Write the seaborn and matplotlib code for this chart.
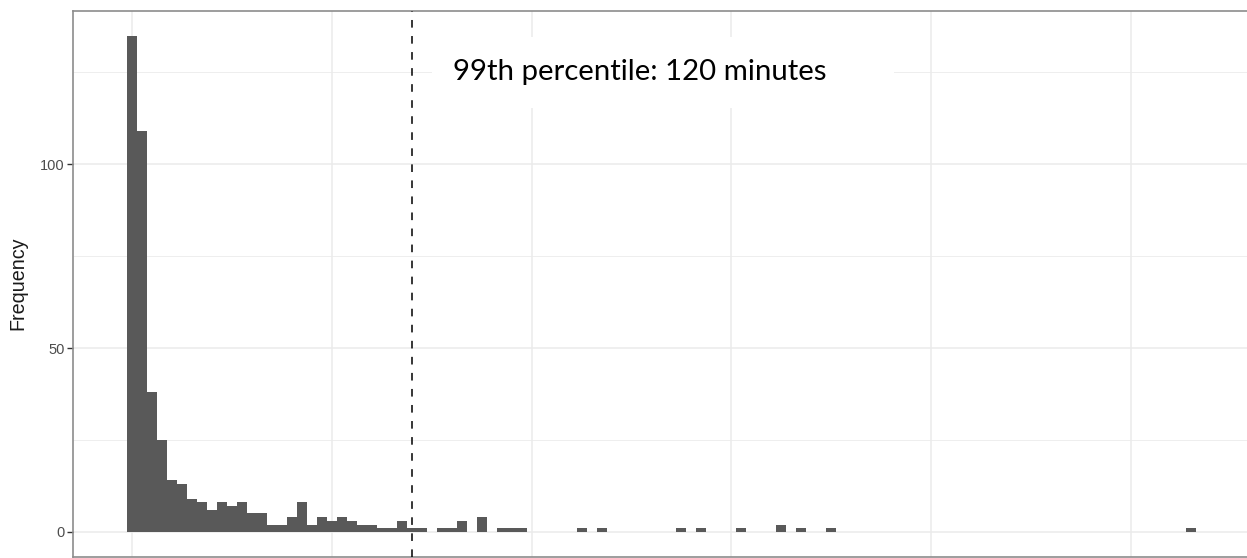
import matplotlib
matplotlib.use("Agg")
import matplotlib.pyplot as plt
import matplotlib.patches as patches
import pandas as pd
import seaborn as sns

# durations in minutes, 2.5 minute bins (only non-empty bins listed)
bin_centers = [
    50.0, 52.5, 55.0, 57.5, 60.0, 62.5, 65.0, 67.5, 70.0, 72.5,
    75.0, 77.5, 80.0, 82.5, 85.0, 87.5, 90.0, 92.5, 95.0, 97.5,
    100.0, 102.5, 105.0, 107.5, 110.0, 112.5, 115.0, 117.5, 120.0, 122.5,
    127.5, 130.0, 132.5, 137.5, 142.5, 145.0, 147.5,
    162.5, 167.5, 187.5, 192.5, 202.5, 212.5, 217.5, 225.0, 315.0,
]
counts = [
    135, 109, 38, 25, 14, 13, 9, 8, 6, 8,
    7, 8, 5, 5, 2, 2, 4, 8, 2, 4,
    3, 4, 3, 2, 2, 1, 1, 3, 1, 1,
    1, 1, 3, 4, 1, 1, 1,
    1, 1, 1, 1, 1, 2, 1, 1, 1,
]
p99 = 120
binwidth = 2.5
x_breaks = [50, 100, 150, 200, 250, 300]
y_breaks = [0, 50, 100]
y_minor = [25, 75, 125]

df = pd.DataFrame({"minutes": bin_centers, "n": counts})

sns.set_style("white")
plt.rcParams["font.family"] = ["Liberation Sans", "DejaVu Sans"]

fig = plt.figure(figsize=(12.47, 5.58), dpi=100)
ax = fig.add_axes([73.3 / 1247, 1.3 / 558, 1176.4 / 1247, 546 / 558])

lo = min(bin_centers) - binwidth / 2
hi = max(bin_centers) + binwidth / 2
sns.histplot(
    data=df, x="minutes", weights="n", binwidth=binwidth, binrange=(lo, hi),
    color="#595959", edgecolor="none", alpha=1, linewidth=0, ax=ax, zorder=2,
)

pad = (hi - lo) * 0.05
ax.set_xlim(lo - pad, hi + pad)
ax.set_ylim(-0.05 * max(counts), 1.05 * max(counts))

ax.set_xticks(x_breaks)
ax.set_yticks(y_breaks)
ax.set_yticks(y_minor, minor=True)
ax.grid(which="major", color="#ebebeb", lw=1.1, zorder=0)
ax.grid(which="minor", axis="y", color="#ebebeb", lw=0.6, zorder=0)
ax.set_axisbelow(True)
ax.tick_params(axis="x", bottom=False, labelbottom=False)
ax.tick_params(axis="y", which="major", left=True, length=4, width=1,
               color="#333333", labelsize=10.5, labelcolor="#4d4d4d", pad=2)
ax.tick_params(axis="y", which="minor", left=False)
for s in ax.spines.values():
    s.set_color("#8c8c8c")
    s.set_linewidth(1.2)

ax.set_xlabel("")
ax.set_ylabel("Frequency", fontsize=14.2, color="#1a1a1a", labelpad=9)

ax.axvline(p99, color="black", lw=1.1, ls=(0, (5, 5.5)), zorder=3)

# white text box added on top of the plot
box = patches.Rectangle((0.3049, 0.8218), 0.3927, 0.130, transform=ax.transAxes,
                        facecolor="white", edgecolor="none", zorder=4)
ax.add_patch(box)
txt = ax.text(0.3228, 0.873, f"99th percentile: {p99} minutes", transform=ax.transAxes,
              fontsize=24, family=["Lato", "DejaVu Sans"], color="black",
              va="baseline", ha="left", zorder=5)
fig.canvas.draw()
w = txt.get_window_extent().width
txt.set_fontsize(24 * 373 / w)

fig.savefig("out.png", dpi=100)
